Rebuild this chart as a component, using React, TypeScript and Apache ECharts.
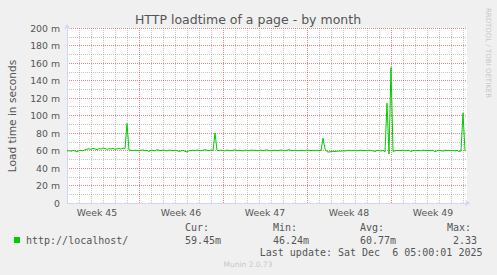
import { useEffect, useRef } from 'react';
import * as echarts from 'echarts';

const TITLE = 'HTTP loadtime of a page - by month';
const Y_AXIS_NAME = 'Load time in seconds';
const SERIES_NAME = 'http://localhost/';
const STEP_HOURS = 4;
const X_MAX_HOURS = 800;
const DAY_HOURS = 24;
const Y_MAX = 200;
const WEEK_LABELS = ['Week 45', 'Week 46', 'Week 47', 'Week 48', 'Week 49'];
const WEEK_LABEL_HOURS = [60, 228, 396, 564, 732];

// load time in milliseconds, one value per 4 hours
const LOAD_MS = [
  59.5, 59.8, 59.2, 60.0, 59.6, 58.4, 59.9, 60.3, 59.7, 60.8,
  61.5, 62.0, 61.2, 62.4, 61.8, 61.0, 62.2, 61.6, 62.8, 62.1,
  61.4, 62.0, 61.7, 62.5, 61.3, 61.9, 62.3, 61.5, 62.6, 62.0,
  91,
  60.5, 60.2, 59.8, 60.4, 60.1, 59.6, 60.3, 60.7, 59.9, 60.2,
  58.8, 60.4, 60.0, 59.7, 61.0, 60.3, 59.9, 60.5, 60.1, 59.4,
  60.6, 60.2, 59.8, 60.3, 60.0, 58.9, 59.5, 60.2, 59.0, 58.3,
  59.6, 60.1, 60.4, 59.8, 60.6, 60.0, 59.7, 60.3, 61.0, 60.2,
  59.9, 60.5, 60.1,
  80,
  60.3, 59.8, 60.4, 60.0, 59.5, 60.6, 60.1, 59.7, 60.2, 60.8,
  59.9, 60.3, 60.0, 59.4, 60.5, 60.2, 59.8, 60.6, 60.1, 60.4,
  59.7, 60.0, 60.5, 59.9, 60.3, 60.7, 60.0, 59.6, 60.2, 60.4,
  59.8, 60.1, 60.6, 60.0, 59.7, 60.3, 60.9, 60.2, 59.9, 60.4,
  60.0, 59.6, 60.3, 60.1, 59.8, 60.5, 60.2, 59.9, 60.3, 60.0,
  60.4, 59.7, 60.2,
  74, 62,
  58.6, 58.2, 58.8, 59.0, 58.9, 59.2, 59.4, 59.3, 59.6, 59.5,
  59.8, 60.5, 59.7, 59.9, 60.2, 59.6, 60.0, 60.3, 59.8, 60.1,
  59.7, 60.4, 60.0, 59.6, 58.8, 60.2, 59.9, 59.4, 60.1, 58.5,
  114, 56, 155,
  59.0, 59.6, 60.2, 59.8, 60.0, 60.4, 59.7, 59.9, 60.3, 58.7,
  60.1, 59.8, 60.0, 60.2, 59.6, 60.4, 60.0, 59.8, 60.1, 59.9,
  60.3, 58.6, 59.8, 60.2, 60.0, 59.1, 60.4, 59.9, 60.1, 59.7,
  60.0, 59.5, 60.2, 58.9, 59.6,
  103, 59.45,
];

const LEGEND_HEADERS = ['Cur:', 'Min:', 'Avg:', 'Max:'];
const LEGEND_VALUES = ['59.45m', '46.24m', '60.77m', '2.33'];
const LAST_UPDATE = 'Last update: Sat Dec  6 05:00:01 2025';
const WATERMARK = 'Munin 2.0.73';
const SIDE_MARK = 'RRDTOOL / TOBI OETIKER';

const FONT = 'DejaVu Sans';
const MONO = 'DejaVu Sans Mono';
const TEXT = '#555555';
const GREEN = '#00CC00';
const AXIS = '#CFD6F8';
const GRID = 'rgba(128,128,128,0.45)';
const MGRID = 'rgba(224,79,79,0.7)';

export default function App() {
  const ref = useRef<HTMLDivElement>(null);
  useEffect(() => {
    if (!ref.current) return;
    const chart = echarts.init(ref.current, undefined, { renderer: 'svg' });
    const seriesData = LOAD_MS.map((v, i) => [i * STEP_HOURS, v]);
    const headerX = [185, 273, 360, 447];
    const valueX = [185, 273, 360, 453];
    const graphics: any[] = [
      {
        type: 'text', x: 248, y: 19.5,
        style: { text: TITLE, font: `12.5px "${FONT}"`, fill: TEXT, align: 'center', verticalAlign: 'middle' },
      },
      {
        type: 'text', x: 11.5, y: 116, rotation: Math.PI / 2,
        style: { text: Y_AXIS_NAME, font: `10.6px "${FONT}"`, fill: TEXT, align: 'center', verticalAlign: 'middle' },
      },
      {
        type: 'text', x: 488, y: 53, rotation: -Math.PI / 2,
        style: { text: SIDE_MARK, font: `7px "${FONT}"`, fill: '#C8C8C8', align: 'center', verticalAlign: 'middle' },
      },
      { type: 'rect', shape: { x: 14, y: 237, width: 6, height: 6 }, style: { fill: GREEN } },
      {
        type: 'text', x: 26, y: 240,
        style: { text: SERIES_NAME, font: `10px "${MONO}"`, fill: TEXT, align: 'left', verticalAlign: 'middle' },
      },
      {
        type: 'text', x: 482.5, y: 252,
        style: { text: LAST_UPDATE, font: `10px "${MONO}"`, fill: TEXT, align: 'right', verticalAlign: 'middle' },
      },
      {
        type: 'text', x: 248, y: 264,
        style: { text: WATERMARK, font: `7.5px "${FONT}"`, fill: '#C8C8C8', align: 'center', verticalAlign: 'middle' },
      },
    ];
    LEGEND_HEADERS.forEach((h, i) => {
      graphics.push({
        type: 'text', x: headerX[i], y: 227,
        style: { text: h, font: `10px "${MONO}"`, fill: TEXT, align: 'left', verticalAlign: 'middle' },
      });
      graphics.push({
        type: 'text', x: valueX[i], y: 240,
        style: { text: LEGEND_VALUES[i], font: `10px "${MONO}"`, fill: TEXT, align: 'left', verticalAlign: 'middle' },
      });
    });

    const weekColors = [GRID, GRID, GRID, GRID, GRID, GRID, MGRID];

    chart.setOption({
      animation: false,
      backgroundColor: '#F0F0F0',
      grid: { left: 67, top: 28, width: 400, height: 175, show: true, backgroundColor: '#FFFFFF', borderWidth: 0 },
      xAxis: [
        {
          type: 'value', min: 0, max: X_MAX_HOURS, interval: DAY_HOURS, position: 'bottom',
          axisLine: { show: true, lineStyle: { color: AXIS, width: 1 }, symbol: ['none', 'arrow'], symbolSize: [5, 5], symbolOffset: [0, 3] },
          axisTick: { show: false },
          axisLabel: { show: false },
          splitLine: { show: true, showMaxLine: false, lineStyle: { color: weekColors, type: [1, 1], width: 1 } },
        },
        {
          type: 'value', min: 0, max: X_MAX_HOURS, interval: 12, position: 'bottom',
          axisLine: { show: false }, axisTick: { show: false }, splitLine: { show: false },
          axisLabel: {
            show: true, interval: 0, margin: 5, color: TEXT, fontFamily: FONT, fontSize: 9.33,
            formatter: (v: number) => {
              const idx = WEEK_LABEL_HOURS.indexOf(v);
              return idx >= 0 ? WEEK_LABELS[idx] : '';
            },
          },
        },
      ],
      yAxis: {
        type: 'value', min: 0, max: Y_MAX, interval: 10,
        axisLine: { show: true, lineStyle: { color: AXIS, width: 1 }, symbol: ['none', 'arrow'], symbolSize: [5, 5], symbolOffset: [0, 4] },
        axisTick: { show: false },
        axisLabel: {
          show: true, margin: 7, color: TEXT, fontFamily: FONT, fontSize: 9.33,
          formatter: (v: number) => (v === 0 ? '0' : v % 20 === 0 ? `${v} m` : ''),
        },
        splitLine: { show: true, lineStyle: { color: [MGRID, GRID], type: [1, 1], width: 1 } },
      },
      series: [
        {
          name: SERIES_NAME, type: 'line', xAxisIndex: 0, data: seriesData,
          showSymbol: false, symbol: 'none', lineStyle: { color: GREEN, width: 1 }, itemStyle: { color: GREEN },
        },
      ],
      graphic: graphics,
    });
    return () => chart.dispose();
  }, []);
  return <div ref={ref} style={{ position: 'fixed', left: 0, top: 0, width: 497, height: 275 }} />;
}
